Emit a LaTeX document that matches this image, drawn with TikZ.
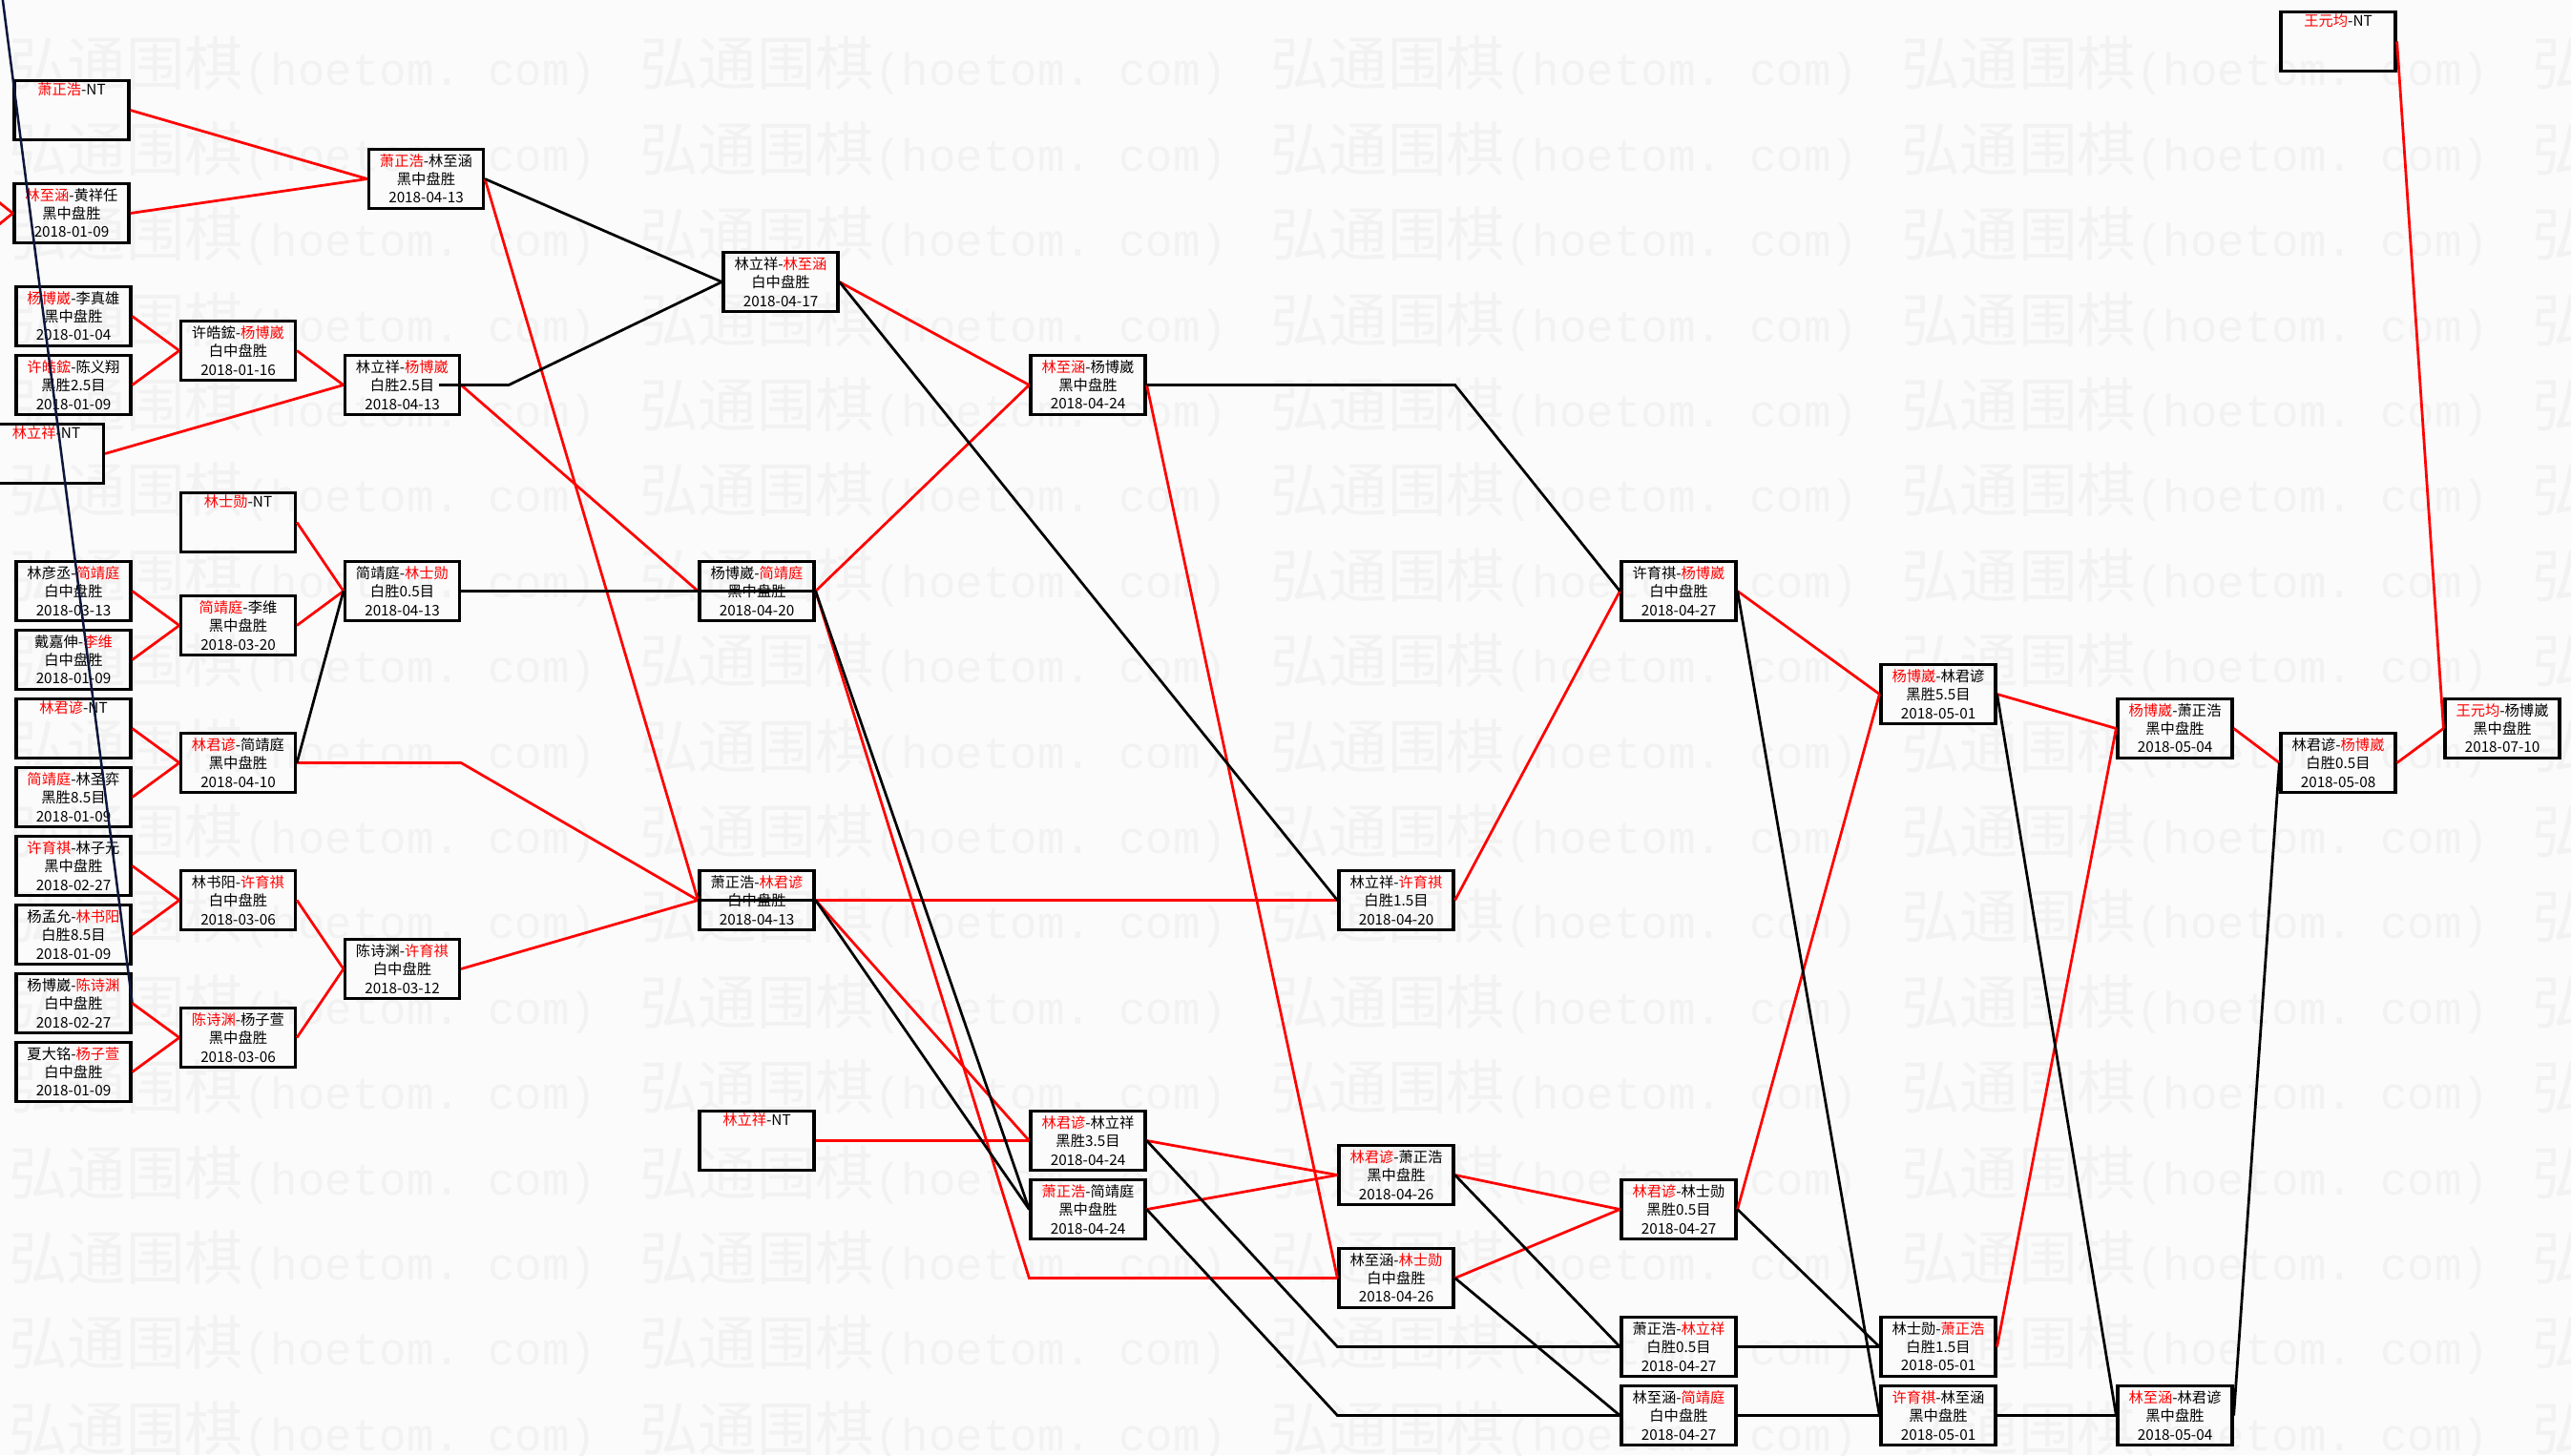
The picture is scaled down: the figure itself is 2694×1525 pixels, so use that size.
\documentclass[tikz,border=0pt]{standalone}
\usepackage{fontspec}
\setmainfont{Noto Sans CJK SC}
\setmonofont{Liberation Mono}
\usepackage{xcolor}
\usepackage{tikz}
\usetikzlibrary{calc}

\definecolor{pagebg}{RGB}{251,251,251}
\definecolor{wmgray}{RGB}{242,242,242}
\definecolor{navyline}{RGB}{12,22,58}
\newcommand{\rd}[1]{\textcolor{red}{#1}}

\begin{document}
\begin{tikzpicture}[x=0.02cm, y=-0.02cm,
    game/.style={draw=black, line width=0.065cm, minimum width=2.4cm, minimum height=1.24cm, inner sep=0pt, align=center, font=\fontsize{8.7}{10.9}\selectfont},
    wmark/.style={text=wmgray, anchor=west, inner sep=0pt, font=\fontsize{35}{35}\selectfont},
    win/.style={draw=red, line width=0.055cm},
    lose/.style={draw=black, line width=0.055cm},
    navy/.style={draw=navyline, line width=0.05cm}
]
    \useasboundingbox (0,0) rectangle (2694,1525);
    \fill[pagebg] (0,0) rectangle (2694,1525);
    \clip (0,0) rectangle (2694,1525);

    % watermark
    \foreach \r in {0,...,16}{
        \foreach \c in {0,...,4}{
            \node[wmark] (wm-\r-\c) at ({9+661*\c},{69+89.4*\r}) {弘通围棋{\ttfamily\fontsize{27}{27}\selectfont(hoetom. com)}};
        }
    }

    % first round
    \node[game] (a1) at (75,115.5) {\rd{萧正浩}-NT\\\strut\\\strut};
    \node[game] (a2) at (75,223.5) {\rd{林至涵}-黄祥任\\黑中盘胜\\2018-01-09};
    \node[game] (a3) at (77,331.5) {\rd{杨博崴}-李真雄\\黑中盘胜\\2018-01-04};
    \node[game] (a4) at (77,403.5) {\rd{许皓鋐}-陈义翔\\黑胜2.5目\\2018-01-09};
    \node[game] (a5) at (48.5,475.5) {\rd{林立祥}-NT\\\strut\\\strut};
    \node[game] (a6) at (77,619.5) {林彦丞-\rd{简靖庭}\\白中盘胜\\2018-03-13};
    \node[game] (a7) at (77,691.5) {戴嘉伸-\rd{李维}\\白中盘胜\\2018-01-09};
    \node[game] (a8) at (77,763.5) {\rd{林君谚}-NT\\\strut\\\strut};
    \node[game] (a9) at (77,835.5) {\rd{简靖庭}-林圣弈\\黑胜8.5目\\2018-01-09};
    \node[game] (a10) at (77,907.5) {\rd{许育祺}-林子元\\黑中盘胜\\2018-02-27};
    \node[game] (a11) at (77,979.5) {杨孟允-\rd{林书阳}\\白胜8.5目\\2018-01-09};
    \node[game] (a12) at (77,1051.5) {杨博崴-\rd{陈诗渊}\\白中盘胜\\2018-02-27};
    \node[game] (a13) at (77,1123.5) {夏大铭-\rd{杨子萱}\\白中盘胜\\2018-01-09};

    % second round
    \node[game] (b1) at (249.5,367.5) {许皓鋐-\rd{杨博崴}\\白中盘胜\\2018-01-16};
    \node[game] (b2) at (249.5,547.5) {\rd{林士勋}-NT\\\strut\\\strut};
    \node[game] (b3) at (249.5,655.5) {\rd{简靖庭}-李维\\黑中盘胜\\2018-03-20};
    \node[game] (b4) at (249.5,799.5) {\rd{林君谚}-简靖庭\\黑中盘胜\\2018-04-10};
    \node[game] (b5) at (249.5,943.5) {林书阳-\rd{许育祺}\\白中盘胜\\2018-03-06};
    \node[game] (b6) at (249.5,1087.5) {\rd{陈诗渊}-杨子萱\\黑中盘胜\\2018-03-06};

    % third round
    \node[game] (c1) at (446.5,187.5) {\rd{萧正浩}-林至涵\\黑中盘胜\\2018-04-13};
    \node[game] (c2) at (421.5,403.5) {林立祥-\rd{杨博崴}\\白胜2.5目\\2018-04-13};
    \node[game] (c3) at (421.5,619.5) {简靖庭-\rd{林士勋}\\白胜0.5目\\2018-04-13};
    \node[game] (c4) at (421.5,1015.5) {陈诗渊-\rd{许育祺}\\白中盘胜\\2018-03-12};

    % fourth round
    \node[game] (d1) at (818,295.5) {林立祥-\rd{林至涵}\\白中盘胜\\2018-04-17};
    \node[game] (d2) at (793,619.5) {杨博崴-\rd{简靖庭}\\黑中盘胜\\2018-04-20};
    \node[game] (d3) at (793,943.5) {萧正浩-\rd{林君谚}\\白中盘胜\\2018-04-13};
    \node[game] (d4) at (793,1195.5) {\rd{林立祥}-NT\\\strut\\\strut};

    % fifth round
    \node[game] (e1) at (1140,403.5) {\rd{林至涵}-杨博崴\\黑中盘胜\\2018-04-24};
    \node[game] (e2) at (1140,1195.5) {\rd{林君谚}-林立祥\\黑胜3.5目\\2018-04-24};
    \node[game] (e3) at (1140,1267.5) {\rd{萧正浩}-简靖庭\\黑中盘胜\\2018-04-24};

    % sixth round
    \node[game] (f1) at (1463,943.5) {林立祥-\rd{许育祺}\\白胜1.5目\\2018-04-20};
    \node[game] (f2) at (1463,1231.5) {\rd{林君谚}-萧正浩\\黑中盘胜\\2018-04-26};
    \node[game] (f3) at (1463,1339.5) {林至涵-\rd{林士勋}\\白中盘胜\\2018-04-26};

    % seventh round
    \node[game] (g1) at (1759,619.5) {许育祺-\rd{杨博崴}\\白中盘胜\\2018-04-27};
    \node[game] (g2) at (1759,1267.5) {\rd{林君谚}-林士勋\\黑胜0.5目\\2018-04-27};
    \node[game] (g3) at (1759,1411.5) {萧正浩-\rd{林立祥}\\白胜0.5目\\2018-04-27};
    \node[game] (g4) at (1759,1483.5) {林至涵-\rd{简靖庭}\\白中盘胜\\2018-04-27};

    % eighth round
    \node[game] (h1) at (2031,727.5) {\rd{杨博崴}-林君谚\\黑胜5.5目\\2018-05-01};
    \node[game] (h2) at (2031,1411.5) {林士勋-\rd{萧正浩}\\白胜1.5目\\2018-05-01};
    \node[game] (h3) at (2031,1483.5) {\rd{许育祺}-林至涵\\黑中盘胜\\2018-05-01};

    % final rounds
    \node[game] (i1) at (2279,763.5) {\rd{杨博崴}-萧正浩\\黑中盘胜\\2018-05-04};
    \node[game] (i2) at (2279,1483.5) {\rd{林至涵}-林君谚\\黑中盘胜\\2018-05-04};
    \node[game] (j0) at (2450,43.5) {\rd{王元均}-NT\\\strut\\\strut};
    \node[game] (j1) at (2450,799.5) {林君谚-\rd{杨博崴}\\白胜0.5目\\2018-05-08};
    \node[game] (k1) at (2622,763.5) {\rd{王元均}-杨博崴\\黑中盘胜\\2018-07-10};

    % loose ends
    \coordinate (offa) at (-40,181);
    \coordinate (offb) at (-40,267);
    \coordinate (offc) at (-1,-30);
    \draw[win] (offa) -- (a2.west);
    \draw[win] (offb) -- (a2.west);
    \draw[navy] (offc) -- (a12.east);

    % winners
    \draw[win] (a1.east) -- (c1.west);
    \draw[win] (a2.east) -- (c1.west);
    \draw[win] (a3.east) -- (b1.west);
    \draw[win] (a4.east) -- (b1.west);
    \draw[win] (b1.east) -- (c2.west);
    \draw[win] (a5.east) -- (c2.west);
    \draw[win] (b2.east) -- (c3.west);
    \draw[win] (b3.east) -- (c3.west);
    \draw[win] (a6.east) -- (b3.west);
    \draw[win] (a7.east) -- (b3.west);
    \draw[win] (a8.east) -- (b4.west);
    \draw[win] (a9.east) -- (b4.west);
    \draw[win] (a10.east) -- (b5.west);
    \draw[win] (a11.east) -- (b5.west);
    \draw[win] (a12.east) -- (b6.west);
    \draw[win] (a13.east) -- (b6.west);
    \draw[win] (b5.east) -- (c4.west);
    \draw[win] (b6.east) -- (c4.west);
    \draw[win] (b4.east) -- (b4.east -| c4.east) -- (d3.west);
    \draw[win] (c4.east) -- (d3.west);
    \draw[win] (c1.east) -- (d3.west);
    \draw[win] (c2.east) -- (d2.west);
    \draw[win] (d1.east) -- (e1.west);
    \draw[win] (d2.east) -- (e1.west);
    \draw[win] (d2.east) -- (f3.west -| e3.west) -- (f3.west);
    \draw[win] (d3.east) -- (f1.west);
    \draw[win] (d3.east) -- (e2.west);
    \draw[win] (d4.east) -- (e2.west);
    \draw[win] (e1.east) -- (f3.west);
    \draw[win] (f1.east) -- (g1.west);
    \draw[win] (e2.east) -- (f2.west);
    \draw[win] (e3.east) -- (f2.west);
    \draw[win] (f2.east) -- (g2.west);
    \draw[win] (f3.east) -- (g2.west);
    \draw[win] (g1.east) -- (h1.west);
    \draw[win] (g2.east) -- (h1.west);
    \draw[win] (h1.east) -- (i1.west);
    \draw[win] (h2.east) -- (i1.west);
    \draw[win] (i1.east) -- (j1.west);
    \draw[win] (j1.east) -- (k1.west);
    \draw[win] (j0.east) -- (k1.west);

    % losers
    \draw[lose] (c1.east) -- (d1.west);
    \draw[lose] ($(c2.east)+(-23,0)$) -- ($(c2.east)+(50,0)$) -- (d1.west);
    \draw[lose] (c3.east) -- (d2.east);
    \draw[lose] (b4.east) -- (c3.west);
    \draw[lose] (d1.east) -- (f1.west);
    \draw[lose] (d2.east) -- (e3.west);
    \draw[lose] (d3.east) -- (e3.west);
    \draw[lose] (d3.west) -- (d3.east);
    \draw[lose] (e1.east) -- (e1.east -| f1.east) -- (g1.west);
    \draw[lose] (e2.east) -- (g3.west -| f2.west) -- (g3.west);
    \draw[lose] (e3.east) -- (g4.west -| f3.west) -- (g4.west);
    \draw[lose] (f2.east) -- (g3.west);
    \draw[lose] (f3.east) -- (g4.west);
    \draw[lose] (g1.east) -- (h3.west);
    \draw[lose] (g2.east) -- (h2.west);
    \draw[lose] (g3.east) -- (h2.west);
    \draw[lose] (g4.east) -- (h3.west);
    \draw[lose] (h1.east) -- (i2.west);
    \draw[lose] (h3.east) -- (i2.west);
    \draw[lose] (i2.east) -- (j1.west);
\end{tikzpicture}
\end{document}
